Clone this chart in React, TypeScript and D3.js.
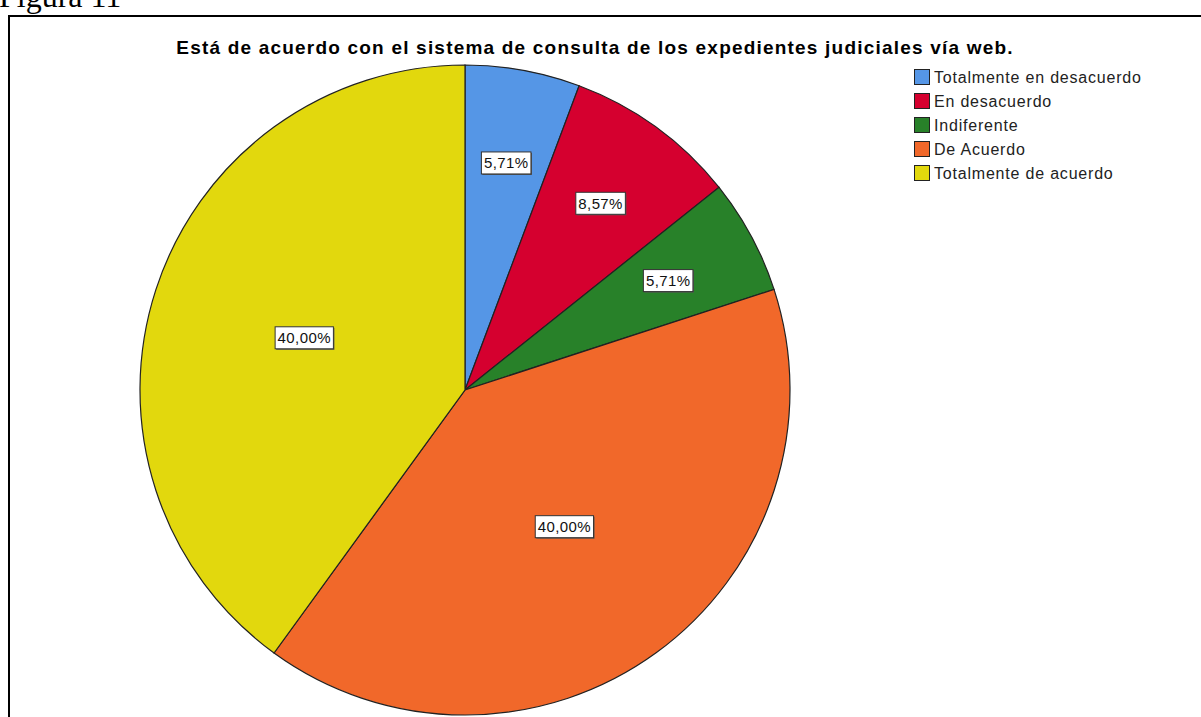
import React, { useEffect, useRef } from "react";
import * as d3 from "d3";

const categories = [
  "Totalmente en desacuerdo",
  "En desacuerdo",
  "Indiferente",
  "De Acuerdo",
  "Totalmente de acuerdo",
];
const percents = [5.71, 8.57, 5.71, 40.0, 40.0];
const colors = ["#5596e6", "#d5002f", "#288129", "#f1682a", "#e2d80d"];
const title = "Está de acuerdo con el sistema de consulta de los expedientes judiciales vía web.";

export default function App() {
  const ref = useRef<SVGSVGElement>(null);

  useEffect(() => {
    const svg = d3.select(ref.current);
    svg.selectAll("*").remove();

    const width = 1201;
    const height = 717;
    const cx = 465;
    const cy = 390;
    const radius = 325;

    svg.append("rect").attr("width", width).attr("height", height).attr("fill", "#fff");

    // caption cut off at the top
    svg.append("text").text("Figura 11").attr("x", -1).attr("y", 7)
      .attr("font-family", "'Liberation Serif', 'Times New Roman', serif").attr("font-size", 32).attr("fill", "#000");

    // frame
    svg.append("path").attr("d", `M9,${height + 5}V16H${width + 5}`)
      .attr("fill", "none").attr("stroke", "#000").attr("stroke-width", 2);

    svg.append("text").text(title).attr("x", 595).attr("y", 54).attr("text-anchor", "middle")
      .attr("font-family", "'Liberation Sans', Arial, sans-serif").attr("font-weight", "bold")
      .attr("font-size", 19).attr("letter-spacing", 1.2).attr("fill", "#000");

    const data = categories.map((c, i) => ({ name: c, value: percents[i], color: colors[i] }));
    const pie = d3.pie<any>().value(d => d.value).sort(null);
    const arcs = pie(data);
    const arc = d3.arc<any>().innerRadius(0).outerRadius(radius);

    const g = svg.append("g").attr("transform", `translate(${cx},${cy})`);
    g.selectAll("path.slice").data(arcs).join("path").attr("class", "slice")
      .attr("d", arc).attr("fill", d => d.data.color).attr("stroke", "#222").attr("stroke-width", 1.2);

    const fmt = (v: number) => v.toFixed(2).replace(".", ",") + "%";
    const labels = g.selectAll("g.lab").data(arcs).join("g").attr("class", "lab")
      .attr("transform", d => {
        const r = d.data.value < 10 ? radius * 0.71 : radius * 0.52;
        const a = (d.startAngle + d.endAngle) / 2;
        return `translate(${Math.sin(a) * r},${-Math.cos(a) * r})`;
      });
    labels.each(function (d) {
      const sel = d3.select(this);
      const t = sel.append("text").text(fmt(d.data.value)).attr("text-anchor", "middle").attr("y", 5.5)
        .attr("font-family", "'Liberation Sans', Arial, sans-serif").attr("font-size", 15)
        .attr("letter-spacing", 0.4).attr("fill", "#111");
      const w = (t.node() as SVGTextElement).getComputedTextLength() + 5;
      sel.insert("rect", "text").attr("x", -w / 2 + 1).attr("y", -10).attr("width", w).attr("height", 22)
        .attr("fill", "#555");
      sel.insert("rect", "text").attr("x", -w / 2).attr("y", -11).attr("width", w).attr("height", 22)
        .attr("fill", "#fff").attr("stroke", "#333").attr("stroke-width", 1);
    });

    const legend = svg.append("g").attr("transform", "translate(914,69)");
    const rows = legend.selectAll("g").data(data).join("g").attr("transform", (d, i) => `translate(0,${i * 24})`);
    rows.append("rect").attr("x", 0.5).attr("y", 0.5).attr("width", 15).attr("height", 15)
      .attr("fill", d => d.color).attr("stroke", "#222").attr("stroke-width", 1);
    rows.append("text").text(d => d.name).attr("x", 20).attr("y", 14)
      .attr("font-family", "'Liberation Sans', Arial, sans-serif").attr("font-size", 16)
      .attr("letter-spacing", 0.8).attr("fill", "#222");
  }, []);

  return (
    <svg ref={ref} width={1201} height={717}
      style={{ position: "absolute", left: 0, top: 0, display: "block" }} />
  );
}
